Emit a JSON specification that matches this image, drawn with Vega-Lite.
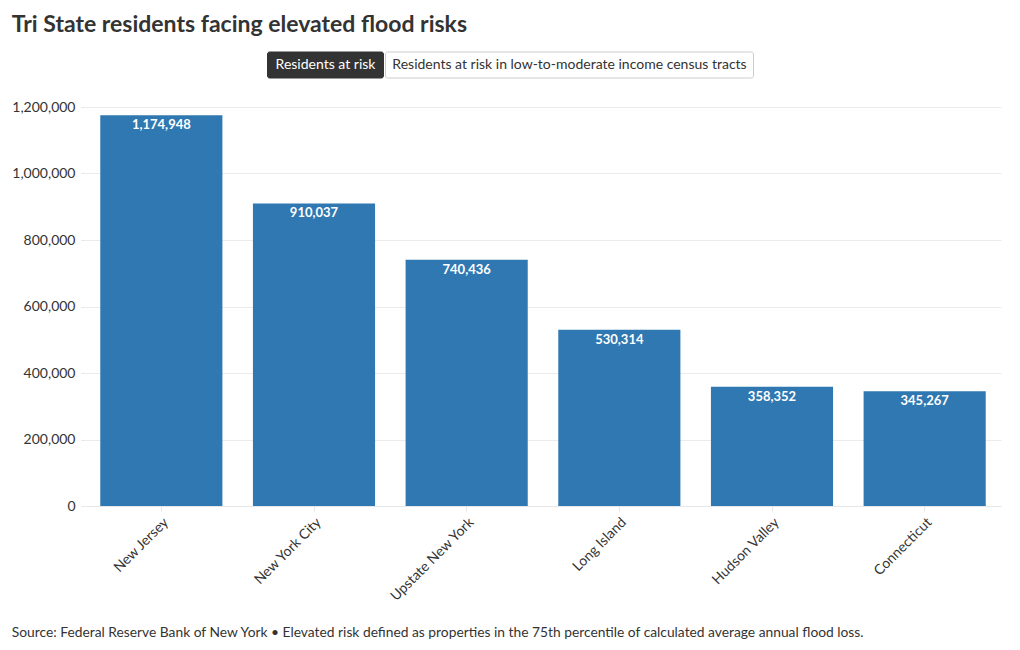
{
  "$schema": "https://vega.github.io/schema/vega-lite/v6.json",
  "padding": {"left": 11, "top": 13, "right": 20, "bottom": 4},
  "title": {"text": "Tri State residents facing elevated flood risks", "anchor": "start", "fontSize": 23, "fontWeight": "bold", "font": "Lato", "color": "#333333", "offset": 15},
  "center": true,
  "spacing": 21,
  "datasets": {
    "buttons": [
      {"label": "Residents at risk", "state": "active"},
      {"label": "Residents at risk in low-to-moderate income census tracts", "state": "inactive"}
    ],
    "regions": [
      {"region": "New Jersey", "residents": 1174948},
      {"region": "New York City", "residents": 910037},
      {"region": "Upstate New York", "residents": 740436},
      {"region": "Long Island", "residents": 530314},
      {"region": "Hudson Valley", "residents": 358352},
      {"region": "Connecticut", "residents": 345267}
    ]
  },
  "vconcat": [
    {
      "hconcat": [
        {
          "width": 116,
          "height": 26,
          "data": {"name": "buttons"},
          "transform": [{"filter": "datum.state === 'active'"}],
          "encoding": {
            "x": {"field": "label", "type": "nominal", "axis": null, "scale": {"paddingInner": 0, "paddingOuter": 0}},
            "y": {"datum": "buttons", "type": "nominal", "axis": null, "scale": {"paddingInner": 0, "paddingOuter": 0}}
          },
          "layer": [
            {"mark": {"type": "bar", "fill": "#333333", "stroke": "#333333", "strokeWidth": 1, "cornerRadius": 2}},
            {"mark": {"type": "text", "font": "Lato", "fontSize": 14, "baseline": "middle", "fill": "#ffffff"}, "encoding": {"text": {"field": "label"}}}
          ]
        },
        {
          "width": 368,
          "height": 26,
          "data": {"name": "buttons"},
          "transform": [{"filter": "datum.state === 'inactive'"}],
          "encoding": {
            "x": {"field": "label", "type": "nominal", "axis": null, "scale": {"paddingInner": 0, "paddingOuter": 0}},
            "y": {"datum": "buttons", "type": "nominal", "axis": null, "scale": {"paddingInner": 0, "paddingOuter": 0}}
          },
          "layer": [
            {"mark": {"type": "bar", "fill": "#ffffff", "stroke": "#cccccc", "strokeWidth": 1, "cornerRadius": 2}},
            {"mark": {"type": "text", "font": "Lato", "fontSize": 14, "baseline": "middle", "fill": "#333333"}, "encoding": {"text": {"field": "label"}}}
          ]
        },
        {
          "width": 64,
          "height": 26,
          "data": {"values": []},
          "mark": {"type": "point", "opacity": 0},
          "encoding": {}
        }
      ],
      "spacing": 0
    },
    {
      "width": 916,
      "height": 399,
      "data": {"name": "regions"},
      "title": {"text": "Source: Federal Reserve Bank of New York • Elevated risk defined as properties in the 75th percentile of calculated average annual flood loss.", "orient": "bottom", "anchor": "start", "frame": "bounds", "font": "Lato", "fontSize": 13.8, "fontWeight": "normal", "color": "#333333", "offset": 22},
      "encoding": {
        "x": {
          "field": "region", "type": "nominal", "sort": null, "title": null,
          "scale": {"paddingInner": 0.2, "paddingOuter": 0.1},
          "axis": {"labelAngle": -45, "labelFont": "Lato", "labelFontSize": 14, "labelColor": "#333333", "domainColor": "#e6e6e6", "tickColor": "#e6e6e6", "tickSize": 5, "labelPadding": 4}
        },
        "y": {
          "field": "residents", "type": "quantitative", "title": null,
          "scale": {"domain": [0, 1200000]},
          "axis": {"format": ",d", "values": [0, 200000, 400000, 600000, 800000, 1000000, 1200000], "labelFont": "Lato", "labelFontSize": 14, "labelColor": "#333333", "domain": false, "tickColor": "#e6e6e6", "tickSize": 4, "labelPadding": 6, "gridColor": "#ebebeb", "labelOverlap": false}
        }
      },
      "layer": [
        {"mark": {"type": "bar", "fill": "#2f78b1"}},
        {
          "mark": {"type": "text", "font": "Lato", "fontSize": 13, "fontWeight": "bold", "fill": "#ffffff", "baseline": "top", "dy": 4},
          "encoding": {"text": {"field": "residents", "type": "quantitative", "format": ",d"}}
        }
      ]
    }
  ],
  "config": {"view": {"stroke": null}, "axis": {"gridColor": "#ebebeb"}}
}
